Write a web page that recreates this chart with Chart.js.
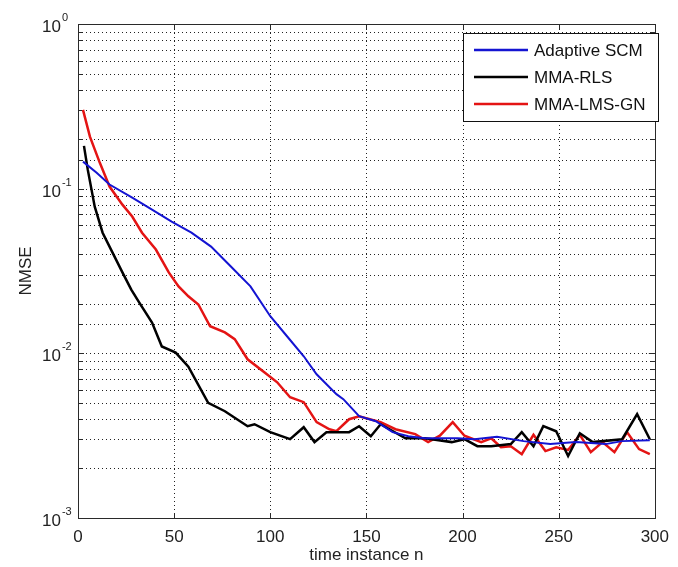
<!DOCTYPE html>
<html>
<head>
<meta charset="utf-8">
<script src="https://cdn.jsdelivr.net/npm/chart.js@4/dist/chart.umd.min.js"></script>
<style>
  html, body { margin: 0; padding: 0; background: #fff; }
  #wrap { width: 678px; height: 567px; }
</style>
</head>
<body>
<div id="wrap"><canvas id="nmseChart" width="678" height="567"></canvas></div>
<script>
// DATA
var seriesNames = ['Adaptive SCM', 'MMA-RLS', 'MMA-LMS-GN'];
var seriesColors = ['#1414d2', '#000000', '#e41414'];

var scmX = [2.6, 9.7, 16.4, 28.2, 38.5, 48.7, 59, 69.2, 79.5, 89.7, 100, 108.7, 117.4, 124.1, 134.4, 138, 146.2, 154.9, 163.6, 171.8, 180.5, 197.4, 206.2, 217.9, 231.8, 245.6, 259, 274.4, 283, 297.4];
var scmY = [0.146, 0.125, 0.106, 0.0882, 0.0746, 0.0631, 0.0541, 0.0445, 0.0337, 0.0255, 0.0168, 0.0127, 0.0096, 0.00746, 0.00565, 0.00527, 0.00415, 0.00387, 0.00332, 0.00314, 0.00305, 0.00305, 0.00301, 0.00311, 0.00293, 0.00281, 0.00289, 0.00281, 0.00293, 0.00297];

var rlsX = [3.1, 5.1, 8.7, 12.8, 17.9, 23.1, 27.7, 31.8, 38.5, 43.6, 50.8, 57.4, 67.7, 76.4, 88.2, 91.8, 100, 110.3, 117.4, 123, 129.2, 141, 146.2, 152.3, 157.4, 170.3, 180.5, 194.4, 201, 207.7, 214.9, 225.1, 230.8, 236.9, 242, 248.7, 254.9, 261, 267.7, 283, 290.8, 297.4];
var rlsY = [0.182, 0.130, 0.0778, 0.054, 0.041, 0.031, 0.0244, 0.0204, 0.0154, 0.0110, 0.0101, 0.0083, 0.0050, 0.00445, 0.00361, 0.00371, 0.00332, 0.00301, 0.00356, 0.00289, 0.00332, 0.00332, 0.00361, 0.00314, 0.00371, 0.00305, 0.00305, 0.00289, 0.00301, 0.00273, 0.00273, 0.00281, 0.00332, 0.00273, 0.00361, 0.00336, 0.00238, 0.00327, 0.00289, 0.00301, 0.00427, 0.00301];

var gnX = [2.6, 6.2, 11.3, 16.4, 23.1, 28.2, 33.3, 40.5, 47.2, 52.3, 57.4, 62.6, 68.7, 76.4, 81.5, 88.2, 96.9, 103.6, 110.3, 117.4, 124.1, 130.8, 134.4, 141, 146.2, 157.4, 165.1, 175.4, 182.1, 188.2, 194.9, 201, 209.7, 214.9, 220, 225.1, 230.8, 236.9, 243.1, 248.7, 254.9, 261, 266.7, 272.8, 279, 285.6, 291.8, 297.4];
var gnY = [0.301, 0.207, 0.144, 0.103, 0.080, 0.0677, 0.054, 0.0427, 0.031, 0.0255, 0.0222, 0.0198, 0.0146, 0.0134, 0.0122, 0.0092, 0.00767, 0.00667, 0.00541, 0.00505, 0.00382, 0.00346, 0.00337, 0.00398, 0.00415, 0.00382, 0.00346, 0.00323, 0.00289, 0.00316, 0.00382, 0.00316, 0.00289, 0.00305, 0.00269, 0.00273, 0.00244, 0.00320, 0.00255, 0.00269, 0.00259, 0.00320, 0.00251, 0.00289, 0.00251, 0.00332, 0.00262, 0.00244];

var xTickStep = 50;
var xMin = 0, xMax = 300;
var yMin = 0.001, yMax = 1;
var xTitle = 'time instance n';
var yTitle = 'NMSE';

var FONT = "'Liberation Sans', Arial, sans-serif";

function pairs(xs, ys) {
    return xs.map(function (x, i) { return { x: x, y: ys[i] }; });
}

function isDecade(v) {
    var l = Math.log10(v);
    return Math.abs(l - Math.round(l)) < 1e-6;
}

// dotted matlab grid, axes box, inward tick marks, 10^n labels, boxed legend
var matlabLook = {
    id: 'matlabLook',
    beforeDatasetsDraw: function (chart) {
        var ctx = chart.ctx;
        var a = chart.chartArea;
        var xs = chart.scales.x, ys = chart.scales.y;
        ctx.save();
        ctx.strokeStyle = '#222';
        ctx.lineWidth = 1;
        ctx.setLineDash([1, 3]);
        ctx.beginPath();
        xs.ticks.forEach(function (t) {
            var px = Math.round(xs.getPixelForValue(t.value)) + 0.5;
            ctx.moveTo(px, a.bottom); ctx.lineTo(px, a.top);
        });
        ys.ticks.forEach(function (t) {
            var py = Math.round(ys.getPixelForValue(t.value)) + 0.5;
            ctx.moveTo(a.left, py); ctx.lineTo(a.right, py);
        });
        ctx.stroke();
        ctx.restore();
    },
    afterDraw: function (chart) {
        var ctx = chart.ctx;
        var a = chart.chartArea;
        var xs = chart.scales.x, ys = chart.scales.y;
        ctx.save();
        ctx.strokeStyle = '#2a2a2a';
        ctx.lineWidth = 1;
        ctx.strokeRect(Math.round(a.left) + 0.5, Math.round(a.top) + 0.5,
            Math.round(a.right - a.left), Math.round(a.bottom - a.top));

        ctx.beginPath();
        xs.ticks.forEach(function (t) {
            var px = Math.round(xs.getPixelForValue(t.value)) + 0.5;
            ctx.moveTo(px, a.bottom); ctx.lineTo(px, a.bottom - 5);
            ctx.moveTo(px, a.top); ctx.lineTo(px, a.top + 5);
        });
        ys.ticks.forEach(function (t) {
            var py = Math.round(ys.getPixelForValue(t.value)) + 0.5;
            var len = isDecade(t.value) ? 6 : 4;
            ctx.moveTo(a.left, py); ctx.lineTo(a.left + len, py);
            ctx.moveTo(a.right, py); ctx.lineTo(a.right - len, py);
        });
        ctx.stroke();

        // y labels as 10 with a raised exponent
        ctx.fillStyle = '#222';
        ys.ticks.forEach(function (t) {
            if (!isDecade(t.value)) return;
            var py = ys.getPixelForValue(t.value);
            var e = Math.round(Math.log10(t.value));
            ctx.font = '17px ' + FONT;
            ctx.textAlign = 'left';
            ctx.textBaseline = 'alphabetic';
            ctx.fillText('10', 42, py + 8);
            var w = ctx.measureText('10').width;
            ctx.font = '11px ' + FONT;
            ctx.fillText(String(e), 42 + w + 1, py - 3);
        });

        // legend
        var lx = 463, ly = 33, lw = 195, lh = 88;
        ctx.fillStyle = '#fff';
        ctx.fillRect(lx, ly, lw, lh);
        ctx.strokeStyle = '#111';
        ctx.strokeRect(lx + 0.5, ly + 0.5, lw, lh);
        ctx.font = '17px ' + FONT;
        ctx.textAlign = 'left';
        ctx.textBaseline = 'middle';
        chart.data.datasets.forEach(function (ds, i) {
            var yy = 50 + i * 27;
            ctx.strokeStyle = ds.borderColor;
            ctx.lineWidth = 2.5;
            ctx.beginPath();
            ctx.moveTo(474, yy); ctx.lineTo(528, yy);
            ctx.stroke();
            ctx.fillStyle = '#111';
            ctx.fillText(ds.label, 534, yy + 1);
        });
        ctx.restore();
    }
};

new Chart(document.getElementById('nmseChart'), {
    type: 'line',
    data: {
        datasets: [
            { label: seriesNames[0], data: pairs(scmX, scmY), borderColor: seriesColors[0], borderWidth: 2 },
            { label: seriesNames[1], data: pairs(rlsX, rlsY), borderColor: seriesColors[1], borderWidth: 2.5 },
            { label: seriesNames[2], data: pairs(gnX, gnY), borderColor: seriesColors[2], borderWidth: 2.5 }
        ]
    },
    options: {
        responsive: false,
        animation: false,
        devicePixelRatio: 1,
        elements: { point: { radius: 0 }, line: { tension: 0, fill: false } },
        layout: { padding: { left: 0, right: 15, top: 24, bottom: 0 } },
        plugins: { legend: { display: false }, tooltip: { enabled: false } },
        scales: {
            x: {
                type: 'linear',
                min: xMin, max: xMax,
                ticks: { stepSize: xTickStep, color: '#222', padding: 9, font: { family: FONT, size: 17 }, maxRotation: 0 },
                grid: { display: false, drawTicks: false },
                border: { display: false },
                title: { display: true, text: xTitle, color: '#222', font: { family: FONT, size: 17 }, padding: { top: 0, bottom: 1 } },
                afterFit: function (s) { s.height = 49; }
            },
            y: {
                type: 'logarithmic',
                min: yMin, max: yMax,
                ticks: { autoSkip: false, callback: function () { return ''; } },
                grid: { display: false, drawTicks: false },
                border: { display: false },
                title: { display: true, text: yTitle, color: '#222', font: { family: FONT, size: 17 }, padding: { top: 16, bottom: 0 } },
                afterFit: function (s) { s.width = 78; }
            }
        }
    },
    plugins: [matlabLook]
});
</script>
</body>
</html>
